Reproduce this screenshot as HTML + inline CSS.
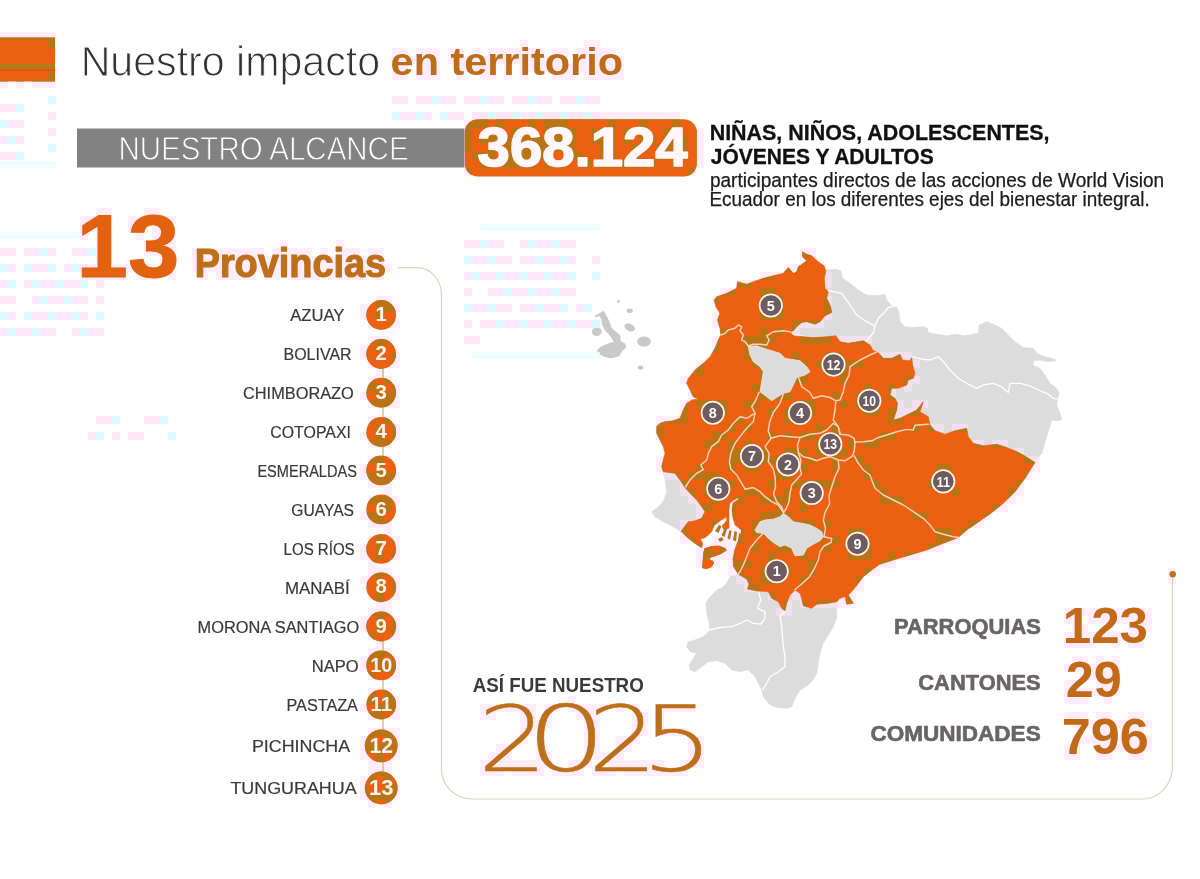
<!DOCTYPE html>
<html lang="es"><head><meta charset="utf-8"><title>Nuestro impacto en territorio</title>
<style>
html,body{margin:0;padding:0;background:#fff;}
body{width:1200px;height:879px;overflow:hidden;position:relative;font-family:"Liberation Sans",sans-serif;}
svg{position:absolute;left:0;top:0;display:block;}
text{font-family:"Liberation Sans",sans-serif;}
.lbl{font-size:16px;fill:#3a3a3a;stroke:#3a3a3a;stroke-width:0.2px;text-anchor:end;}
.num{font-weight:bold;fill:#FFF3F0;text-anchor:middle;}
.mk{font-weight:bold;fill:#fff;text-anchor:middle;}
.ob{fill:none;stroke:#FDD2BC;stroke-width:1.45;stroke-linejoin:round;stroke-linecap:round;}
.gb{fill:none;stroke:#fff;stroke-width:1.3;stroke-linejoin:round;stroke-linecap:round;}
.yr{font-family:"DejaVu Sans","Liberation Sans",sans-serif;font-weight:200;}
</style></head><body>
<svg width="1200" height="879" viewBox="0 0 1200 879">
<rect x="0" y="0" width="1200" height="879" fill="#fff"/>
<rect x="77" y="128.5" width="392" height="39" fill="#828282"/>
<g id="map-gray">
<path d="M822.0,264.0 L825.0,270.0 L836.7,269.2 L840.8,270.8 L842.5,278.3 L850.0,283.3 L858.3,290.0 L866.7,295.0 L876.7,295.8 L885.0,294.2 L886.7,300.0 L891.7,305.8 L896.7,307.5 L899.2,313.3 L900.0,321.7 L905.0,326.7 L913.3,327.5 L923.3,326.7 L927.5,328.3 L928.3,332.5 L936.7,334.2 L946.7,335.8 L955.0,334.2 L965.0,335.8 L973.3,334.2 L978.3,333.3 L979.2,325.0 L986.7,321.7 L993.3,324.2 L1001.7,328.3 L1008.3,335.0 L1015.0,341.7 L1023.3,347.5 L1033.3,348.3 L1036.7,353.3 L1045.0,356.7 L1055.0,359.2 L1055.8,360.8 L1048.3,361.7 L1040.0,360.0 L1033.3,360.8 L1033.3,365.8 L1040.0,368.3 L1045.0,375.0 L1050.0,383.3 L1056.7,388.3 L1059.2,393.3 L1057.5,399.2 L1056.7,405.0 L1060.0,413.3 L1061.7,420.0 L1056.7,420.8 L1051.7,420.0 L1046.7,436.7 L1041.7,453.3 L1034.0,462.0 L1000.0,455.0 L950.0,445.0 L900.0,430.0 L880.0,400.0 L860.0,370.0 L830.0,342.0 L788.0,331.7 L795.0,300.0 L818.0,275.0 Z" fill="#DCDCDC" stroke="#DCDCDC" stroke-width="0.6" stroke-linejoin="round"/>
<path d="M663.3,471.7 L665.0,480.0 L666.7,491.7 L663.3,501.7 L656.7,508.3 L651.7,511.7 L655.0,516.7 L663.3,521.7 L673.3,526.7 L681.1,531.7 L690.0,530.0 L700.0,520.0 L708.0,512.0 L700.0,495.0 L685.0,480.0 L675.0,471.0 Z" fill="#DCDCDC" stroke="#DCDCDC" stroke-width="0.6" stroke-linejoin="round"/>
<path d="M740.0,574.0 L730.0,576.7 L726.7,583.3 L721.7,588.0 L716.7,590.0 L710.0,596.7 L705.8,603.3 L706.7,613.3 L709.2,623.3 L710.0,630.0 L703.3,636.7 L695.0,640.0 L688.3,641.7 L686.7,646.7 L690.0,651.7 L696.7,653.3 L693.3,658.3 L689.2,665.0 L690.0,670.0 L695.0,671.7 L701.7,666.7 L708.3,661.7 L716.7,660.8 L725.0,663.3 L731.7,670.0 L740.0,671.7 L748.3,670.0 L755.0,676.7 L758.3,683.3 L761.7,690.0 L763.3,696.7 L770.0,705.0 L776.7,707.5 L786.7,708.3 L791.7,706.7 L795.0,698.3 L800.0,690.0 L808.3,685.0 L813.3,680.0 L816.7,673.3 L818.3,663.3 L820.0,653.3 L823.3,643.3 L828.3,635.0 L833.3,626.7 L836.7,618.3 L836.7,608.3 L838.3,599.0 L820.0,590.0 L790.0,580.0 L760.0,575.0 Z" fill="#DCDCDC" stroke="#DCDCDC" stroke-width="0.6" stroke-linejoin="round"/>
<path d="M595.0,316.4 L603.6,311.3 L606.4,316.4 L609.2,322.1 L611.0,327.8 L615.5,331.8 L620.0,335.7 L620.0,341.4 L624.6,343.7 L625.7,347.1 L622.3,350.5 L618.9,355.7 L611.0,357.9 L604.1,356.2 L599.6,353.9 L597.3,350.5 L600.7,347.1 L607.5,344.3 L614.4,342.0 L612.1,338.0 L608.7,333.5 L605.3,330.1 L603.0,325.5 L601.9,319.8 L600.1,315.8 Z" fill="#C9C9C9" stroke="#C9C9C9" stroke-width="1" stroke-linejoin="round"/>
<ellipse cx="596.7" cy="331.8" rx="5" ry="4.2" fill="#C9C9C9"/>
<ellipse cx="629.7" cy="327.4" rx="5.6" ry="3.6" transform="rotate(25 629.7 327.4)" fill="#C9C9C9"/>
<ellipse cx="644" cy="341.6" rx="6.8" ry="5" fill="#C9C9C9"/>
<ellipse cx="629.7" cy="310.8" rx="3" ry="2.2" fill="#C9C9C9"/>
<circle cx="618.4" cy="301.4" r="1.4" fill="#C9C9C9"/>
<ellipse cx="640.5" cy="367.6" rx="2.8" ry="2.2" fill="#C9C9C9"/>
</g>
<path d="M0,32h56v8h-56zM48,40h8v8h-8zM520,40h8v8h-8zM584,40h16v8h-16zM48,48h8v8h-8zM392,48h16v8h-16zM416,48h24v8h-24zM448,48h16v8h-16zM472,48h8v8h-8zM488,48h56v8h-56zM552,48h16v8h-16zM576,48h40v8h-40zM392,56h48v8h-48zM448,56h120v8h-120zM576,56h48v8h-48zM48,64h8v8h-8zM392,64h16v8h-16zM416,64h24v8h-24zM456,64h40v8h-40zM504,64h8v8h-8zM520,64h104v8h-104zM48,72h8v8h-8zM392,72h16v8h-16zM416,72h24v8h-24zM456,72h8v8h-8zM480,72h16v8h-16zM504,72h8v8h-8zM520,72h8v8h-8zM552,72h24v8h-24zM584,72h40v8h-40zM0,80h8v8h-8zM16,80h8v8h-8zM32,80h24v8h-24zM480,112h8v8h-8zM496,112h184v8h-184zM464,120h40v8h-40zM520,120h16v8h-16zM544,120h24v8h-24zM608,120h8v8h-8zM632,120h16v8h-16zM672,120h16v8h-16zM464,128h8v8h-8zM488,128h8v8h-8zM504,128h16v8h-16zM536,128h40v8h-40zM592,128h24v8h-24zM624,128h32v8h-32zM664,128h8v8h-8zM696,128h8v8h-8zM464,136h8v8h-8zM480,136h32v8h-32zM520,136h56v8h-56zM592,136h24v8h-24zM624,136h8v8h-8zM640,136h48v8h-48zM696,136h8v8h-8zM464,144h8v8h-8zM488,144h8v8h-8zM504,144h8v8h-8zM520,144h56v8h-56zM600,144h16v8h-16zM632,144h56v8h-56zM696,144h8v8h-8zM464,152h32v8h-32zM504,152h40v8h-40zM552,152h8v8h-8zM568,152h56v8h-56zM632,152h40v8h-40zM680,152h8v8h-8zM696,152h8v8h-8zM464,160h8v8h-8zM480,160h16v8h-16zM504,160h32v8h-32zM544,160h32v8h-32zM584,160h8v8h-8zM600,160h56v8h-56zM672,160h8v8h-8zM696,160h8v8h-8zM464,168h8v8h-8zM688,168h8v8h-8zM96,208h16v8h-16zM144,208h16v8h-16zM80,216h16v8h-16zM104,216h8v8h-8zM128,216h16v8h-16zM160,216h16v8h-16zM80,224h32v8h-32zM128,224h8v8h-8zM152,224h8v8h-8zM80,232h8v8h-8zM96,232h16v8h-16zM136,232h8v8h-8zM152,232h24v8h-24zM96,240h16v8h-16zM144,240h8v8h-8zM160,240h16v8h-16zM280,240h8v8h-8zM336,240h8v8h-8zM96,248h16v8h-16zM144,248h16v8h-16zM168,248h8v8h-8zM192,248h72v8h-72zM272,248h40v8h-40zM320,248h8v8h-8zM336,248h24v8h-24zM368,248h16v8h-16zM800,248h16v8h-16zM96,256h16v8h-16zM160,256h8v8h-8zM192,256h192v8h-192zM800,256h16v8h-16zM80,264h24v8h-24zM112,264h24v8h-24zM144,264h8v8h-8zM192,264h200v8h-200zM784,264h16v8h-16zM80,272h48v8h-48zM136,272h24v8h-24zM168,272h8v8h-8zM200,272h8v8h-8zM216,272h40v8h-40zM264,272h16v8h-16zM288,272h32v8h-32zM328,272h40v8h-40zM376,272h8v8h-8zM760,272h24v8h-24zM824,272h8v8h-8zM736,280h24v8h-24zM824,280h8v8h-8zM720,288h16v8h-16zM760,288h16v8h-16zM376,296h16v8h-16zM712,296h8v8h-8zM752,296h16v8h-16zM776,296h8v8h-8zM824,296h8v8h-8zM360,304h40v8h-40zM776,304h8v8h-8zM824,304h8v8h-8zM360,312h8v8h-8zM376,312h16v8h-16zM712,312h8v8h-8zM760,312h24v8h-24zM824,312h8v8h-8zM368,320h32v8h-32zM712,320h8v8h-8zM736,320h8v8h-8zM792,320h32v8h-32zM720,328h8v8h-8zM736,328h8v8h-8zM760,328h24v8h-24zM792,328h8v8h-8zM368,336h24v8h-24zM712,336h8v8h-8zM744,336h32v8h-32zM800,336h72v8h-72zM360,344h8v8h-8zM376,344h16v8h-16zM712,344h8v8h-8zM744,344h32v8h-32zM360,352h8v8h-8zM384,352h16v8h-16zM744,352h8v8h-8zM784,352h16v8h-16zM824,352h24v8h-24zM856,352h8v8h-8zM872,352h40v8h-40zM368,360h8v8h-8zM392,360h8v8h-8zM696,360h8v8h-8zM752,360h8v8h-8zM800,360h8v8h-8zM816,360h8v8h-8zM840,360h24v8h-24zM912,360h8v8h-8zM376,368h8v8h-8zM696,368h8v8h-8zM760,368h8v8h-8zM800,368h32v8h-32zM840,368h16v8h-16zM368,376h24v8h-24zM680,376h8v8h-8zM760,376h8v8h-8zM792,376h16v8h-16zM832,376h16v8h-16zM904,376h16v8h-16zM368,384h32v8h-32zM752,384h8v8h-8zM784,384h8v8h-8zM800,384h16v8h-16zM840,384h8v8h-8zM856,384h24v8h-24zM888,384h8v8h-8zM904,384h8v8h-8zM360,392h8v8h-8zM376,392h24v8h-24zM688,392h8v8h-8zM752,392h40v8h-40zM816,392h8v8h-8zM832,392h16v8h-16zM856,392h8v8h-8zM872,392h8v8h-8zM888,392h8v8h-8zM368,400h32v8h-32zM680,400h8v8h-8zM696,400h32v8h-32zM744,400h16v8h-16zM776,400h16v8h-16zM800,400h16v8h-16zM840,400h8v8h-8zM856,400h8v8h-8zM880,400h8v8h-8zM896,400h8v8h-8zM912,400h16v8h-16zM680,408h8v8h-8zM720,408h8v8h-8zM744,408h16v8h-16zM768,408h8v8h-8zM784,408h8v8h-8zM808,408h8v8h-8zM832,408h8v8h-8zM856,408h24v8h-24zM888,408h32v8h-32zM368,416h8v8h-8zM384,416h8v8h-8zM656,416h32v8h-32zM696,416h16v8h-16zM720,416h40v8h-40zM784,416h32v8h-32zM832,416h8v8h-8zM888,416h16v8h-16zM376,424h8v8h-8zM392,424h8v8h-8zM656,424h8v8h-8zM720,424h16v8h-16zM744,424h8v8h-8zM768,424h8v8h-8zM816,424h24v8h-24zM896,424h8v8h-8zM912,424h32v8h-32zM952,424h16v8h-16zM360,432h8v8h-8zM376,432h24v8h-24zM656,432h8v8h-8zM712,432h16v8h-16zM736,432h8v8h-8zM768,432h48v8h-48zM824,432h16v8h-16zM848,432h8v8h-8zM872,432h24v8h-24zM368,440h24v8h-24zM704,440h16v8h-16zM728,440h8v8h-8zM744,440h8v8h-8zM760,440h16v8h-16zM816,440h8v8h-8zM840,440h40v8h-40zM968,440h16v8h-16zM992,440h16v8h-16zM704,448h8v8h-8zM728,448h16v8h-16zM760,448h48v8h-48zM816,448h8v8h-8zM832,448h24v8h-24zM1008,448h16v8h-16zM368,456h24v8h-24zM656,456h8v8h-8zM704,456h8v8h-8zM728,456h16v8h-16zM760,456h24v8h-24zM792,456h48v8h-48zM856,456h8v8h-8zM1024,456h16v8h-16zM360,464h8v8h-8zM376,464h16v8h-16zM656,464h8v8h-8zM696,464h8v8h-8zM728,464h32v8h-32zM768,464h16v8h-16zM792,464h16v8h-16zM832,464h8v8h-8zM864,464h8v8h-8zM936,464h16v8h-16zM1024,464h16v8h-16zM360,472h40v8h-40zM664,472h16v8h-16zM688,472h56v8h-56zM768,472h24v8h-24zM832,472h8v8h-8zM864,472h8v8h-8zM952,472h8v8h-8zM1024,472h8v8h-8zM368,480h24v8h-24zM680,480h8v8h-8zM704,480h8v8h-8zM728,480h8v8h-8zM768,480h8v8h-8zM784,480h56v8h-56zM872,480h8v8h-8zM928,480h8v8h-8zM952,480h8v8h-8zM1016,480h8v8h-8zM384,488h8v8h-8zM680,488h16v8h-16zM704,488h8v8h-8zM728,488h8v8h-8zM744,488h32v8h-32zM784,488h8v8h-8zM816,488h16v8h-16zM872,488h16v8h-16zM952,488h8v8h-8zM1008,488h16v8h-16zM368,496h32v8h-32zM688,496h16v8h-16zM712,496h8v8h-8zM728,496h16v8h-16zM760,496h32v8h-32zM800,496h8v8h-8zM824,496h8v8h-8zM880,496h24v8h-24zM1000,496h16v8h-16zM376,504h16v8h-16zM696,504h16v8h-16zM728,504h8v8h-8zM776,504h16v8h-16zM800,504h8v8h-8zM824,504h8v8h-8zM896,504h24v8h-24zM992,504h16v8h-16zM360,512h24v8h-24zM696,512h8v8h-8zM720,512h16v8h-16zM760,512h32v8h-32zM824,512h8v8h-8zM912,512h16v8h-16zM984,512h8v8h-8zM368,520h24v8h-24zM680,520h16v8h-16zM712,520h8v8h-8zM736,520h8v8h-8zM752,520h16v8h-16zM792,520h24v8h-24zM824,520h8v8h-8zM920,520h16v8h-16zM968,520h16v8h-16zM384,528h8v8h-8zM680,528h8v8h-8zM704,528h8v8h-8zM720,528h24v8h-24zM752,528h16v8h-16zM816,528h16v8h-16zM848,528h16v8h-16zM936,528h16v8h-16zM960,528h8v8h-8zM368,536h16v8h-16zM392,536h8v8h-8zM680,536h16v8h-16zM712,536h32v8h-32zM752,536h8v8h-8zM768,536h8v8h-8zM816,536h8v8h-8zM832,536h16v8h-16zM936,536h24v8h-24zM360,544h8v8h-8zM376,544h8v8h-8zM392,544h8v8h-8zM696,544h40v8h-40zM744,544h16v8h-16zM776,544h16v8h-16zM800,544h32v8h-32zM864,544h8v8h-8zM920,544h24v8h-24zM360,552h40v8h-40zM696,552h40v8h-40zM744,552h8v8h-8zM768,552h16v8h-16zM800,552h8v8h-8zM816,552h8v8h-8zM848,552h24v8h-24zM888,552h32v8h-32zM368,560h8v8h-8zM696,560h8v8h-8zM712,560h8v8h-8zM728,560h24v8h-24zM760,560h32v8h-32zM808,560h16v8h-16zM880,560h16v8h-16zM368,568h24v8h-24zM728,568h16v8h-16zM760,568h8v8h-8zM784,568h8v8h-8zM808,568h8v8h-8zM864,568h16v8h-16zM1168,568h8v8h-8zM360,576h40v8h-40zM736,576h16v8h-16zM760,576h32v8h-32zM800,576h8v8h-8zM856,576h8v8h-8zM1168,576h8v8h-8zM376,584h8v8h-8zM392,584h8v8h-8zM744,584h24v8h-24zM792,584h8v8h-8zM856,584h8v8h-8zM368,592h16v8h-16zM392,592h8v8h-8zM768,592h8v8h-8zM792,592h8v8h-8zM832,592h24v8h-24zM376,600h16v8h-16zM784,600h8v8h-8zM800,600h56v8h-56zM368,608h24v8h-24zM776,608h16v8h-16zM1064,608h88v8h-88zM360,616h8v8h-8zM376,616h24v8h-24zM1064,616h16v8h-16zM1088,616h64v8h-64zM360,624h8v8h-8zM376,624h24v8h-24zM1072,624h16v8h-16zM1128,624h24v8h-24zM368,632h32v8h-32zM1064,632h80v8h-80zM376,640h8v8h-8zM1064,640h32v8h-32zM1112,640h8v8h-8zM1128,640h16v8h-16zM368,648h24v8h-24zM360,656h40v8h-40zM1072,656h16v8h-16zM1096,656h8v8h-8zM1112,656h8v8h-8zM360,664h40v8h-40zM1064,664h56v8h-56zM368,672h32v8h-32zM1080,672h32v8h-32zM1064,680h16v8h-16zM1096,680h24v8h-24zM368,688h24v8h-24zM1064,688h56v8h-56zM368,696h8v8h-8zM384,696h16v8h-16zM568,696h8v8h-8zM1064,696h24v8h-24zM1104,696h8v8h-8zM360,704h8v8h-8zM376,704h24v8h-24zM480,704h56v8h-56zM544,704h16v8h-16zM568,704h40v8h-40zM616,704h8v8h-8zM632,704h8v8h-8zM664,704h32v8h-32zM368,712h16v8h-16zM392,712h8v8h-8zM480,712h16v8h-16zM520,712h16v8h-16zM544,712h8v8h-8zM576,712h24v8h-24zM632,712h16v8h-16zM656,712h8v8h-8zM1064,712h24v8h-24zM1096,712h16v8h-16zM1128,712h16v8h-16zM520,720h32v8h-32zM584,720h16v8h-16zM632,720h16v8h-16zM656,720h8v8h-8zM1072,720h80v8h-80zM368,728h32v8h-32zM520,728h16v8h-16zM584,728h16v8h-16zM632,728h16v8h-16zM656,728h32v8h-32zM1096,728h16v8h-16zM1120,728h24v8h-24zM360,736h40v8h-40zM520,736h8v8h-8zM536,736h8v8h-8zM584,736h16v8h-16zM616,736h24v8h-24zM688,736h16v8h-16zM1072,736h40v8h-40zM1120,736h32v8h-32zM360,744h40v8h-40zM496,744h16v8h-16zM536,744h8v8h-8zM584,744h16v8h-16zM616,744h16v8h-16zM688,744h16v8h-16zM1064,744h16v8h-16zM1096,744h56v8h-56zM360,752h40v8h-40zM488,752h24v8h-24zM536,752h16v8h-16zM584,752h40v8h-40zM688,752h16v8h-16zM1064,752h16v8h-16zM1096,752h16v8h-16zM1128,752h16v8h-16zM368,760h24v8h-24zM480,760h72v8h-72zM568,760h24v8h-24zM608,760h56v8h-56zM680,760h24v8h-24zM368,768h24v8h-24zM480,768h24v8h-24zM512,768h32v8h-32zM552,768h32v8h-32zM592,768h24v8h-24zM624,768h64v8h-64zM360,776h16v8h-16zM384,776h8v8h-8zM360,784h40v8h-40zM360,792h40v8h-40zM368,800h8v8h-8zM384,800h8v8h-8z" fill="#FFE2FB" fill-opacity="0.62"/>
<g fill-opacity="0.8"><rect x="0" y="248" width="8" height="8" fill="#FFE0F8"/><rect x="8" y="248" width="8" height="8" fill="#FFE0F8"/><rect x="24" y="248" width="8" height="8" fill="#FFE0F8"/><rect x="32" y="248" width="8" height="8" fill="#FFE0F8"/><rect x="40" y="248" width="8" height="8" fill="#CDFAFF"/><rect x="48" y="248" width="8" height="8" fill="#FFE0F8"/><rect x="72" y="248" width="8" height="8" fill="#FFE0F8"/><rect x="80" y="248" width="8" height="8" fill="#FFE0F8"/><rect x="88" y="248" width="8" height="8" fill="#CDFAFF"/><rect x="0" y="264" width="8" height="8" fill="#CDFAFF"/><rect x="8" y="264" width="8" height="8" fill="#FFE0F8"/><rect x="24" y="264" width="8" height="8" fill="#CDFAFF"/><rect x="32" y="264" width="8" height="8" fill="#FFE0F8"/><rect x="40" y="264" width="8" height="8" fill="#FFE0F8"/><rect x="48" y="264" width="8" height="8" fill="#CDFAFF"/><rect x="64" y="264" width="8" height="8" fill="#FFE0F8"/><rect x="72" y="264" width="8" height="8" fill="#CDFAFF"/><rect x="80" y="264" width="8" height="8" fill="#FFE0F8"/><rect x="0" y="280" width="8" height="8" fill="#FFE0F8"/><rect x="8" y="280" width="8" height="8" fill="#CDFAFF"/><rect x="24" y="280" width="8" height="8" fill="#FFE0F8"/><rect x="32" y="280" width="8" height="8" fill="#CDFAFF"/><rect x="40" y="280" width="8" height="8" fill="#FFE0F8"/><rect x="48" y="280" width="8" height="8" fill="#FFE0F8"/><rect x="56" y="280" width="8" height="8" fill="#CDFAFF"/><rect x="64" y="280" width="8" height="8" fill="#FFE0F8"/><rect x="72" y="280" width="8" height="8" fill="#FFE0F8"/><rect x="80" y="280" width="8" height="8" fill="#CDFAFF"/><rect x="96" y="280" width="8" height="8" fill="#FFE0F8"/><rect x="0" y="296" width="8" height="8" fill="#FFE0F8"/><rect x="8" y="296" width="8" height="8" fill="#FFE0F8"/><rect x="32" y="296" width="8" height="8" fill="#FFE0F8"/><rect x="40" y="296" width="8" height="8" fill="#CDFAFF"/><rect x="48" y="296" width="8" height="8" fill="#FFE0F8"/><rect x="56" y="296" width="8" height="8" fill="#FFE0F8"/><rect x="64" y="296" width="8" height="8" fill="#CDFAFF"/><rect x="72" y="296" width="8" height="8" fill="#FFE0F8"/><rect x="80" y="296" width="8" height="8" fill="#FFE0F8"/><rect x="96" y="296" width="8" height="8" fill="#FFE0F8"/><rect x="0" y="312" width="8" height="8" fill="#CDFAFF"/><rect x="8" y="312" width="8" height="8" fill="#FFE0F8"/><rect x="24" y="312" width="8" height="8" fill="#CDFAFF"/><rect x="32" y="312" width="8" height="8" fill="#FFE0F8"/><rect x="40" y="312" width="8" height="8" fill="#FFE0F8"/><rect x="48" y="312" width="8" height="8" fill="#CDFAFF"/><rect x="56" y="312" width="8" height="8" fill="#FFE0F8"/><rect x="64" y="312" width="8" height="8" fill="#FFE0F8"/><rect x="72" y="312" width="8" height="8" fill="#CDFAFF"/><rect x="80" y="312" width="8" height="8" fill="#FFE0F8"/><rect x="96" y="312" width="8" height="8" fill="#CDFAFF"/><rect x="0" y="328" width="8" height="8" fill="#FFE0F8"/><rect x="8" y="328" width="8" height="8" fill="#CDFAFF"/><rect x="16" y="328" width="8" height="8" fill="#FFE0F8"/><rect x="24" y="328" width="8" height="8" fill="#FFE0F8"/><rect x="32" y="328" width="8" height="8" fill="#CDFAFF"/><rect x="40" y="328" width="8" height="8" fill="#FFE0F8"/><rect x="48" y="328" width="8" height="8" fill="#FFE0F8"/><rect x="72" y="328" width="8" height="8" fill="#FFE0F8"/><rect x="80" y="328" width="8" height="8" fill="#CDFAFF"/><rect x="88" y="328" width="8" height="8" fill="#FFE0F8"/><rect x="96" y="328" width="8" height="8" fill="#FFE0F8"/><rect x="0" y="232" width="80" height="7" fill="#ECFDFF"/><rect x="464" y="240" width="8" height="8" fill="#FFE0F8"/><rect x="472" y="240" width="8" height="8" fill="#FFE0F8"/><rect x="480" y="240" width="8" height="8" fill="#CDFAFF"/><rect x="488" y="240" width="8" height="8" fill="#FFE0F8"/><rect x="496" y="240" width="8" height="8" fill="#FFE0F8"/><rect x="520" y="240" width="8" height="8" fill="#FFE0F8"/><rect x="528" y="240" width="8" height="8" fill="#CDFAFF"/><rect x="536" y="240" width="8" height="8" fill="#FFE0F8"/><rect x="544" y="240" width="8" height="8" fill="#FFE0F8"/><rect x="552" y="240" width="8" height="8" fill="#CDFAFF"/><rect x="560" y="240" width="8" height="8" fill="#FFE0F8"/><rect x="568" y="240" width="8" height="8" fill="#FFE0F8"/><rect x="464" y="256" width="8" height="8" fill="#CDFAFF"/><rect x="472" y="256" width="8" height="8" fill="#FFE0F8"/><rect x="480" y="256" width="8" height="8" fill="#FFE0F8"/><rect x="488" y="256" width="8" height="8" fill="#CDFAFF"/><rect x="496" y="256" width="8" height="8" fill="#FFE0F8"/><rect x="504" y="256" width="8" height="8" fill="#FFE0F8"/><rect x="520" y="256" width="8" height="8" fill="#FFE0F8"/><rect x="528" y="256" width="8" height="8" fill="#FFE0F8"/><rect x="536" y="256" width="8" height="8" fill="#CDFAFF"/><rect x="544" y="256" width="8" height="8" fill="#FFE0F8"/><rect x="552" y="256" width="8" height="8" fill="#FFE0F8"/><rect x="560" y="256" width="8" height="8" fill="#CDFAFF"/><rect x="568" y="256" width="8" height="8" fill="#FFE0F8"/><rect x="592" y="256" width="8" height="8" fill="#FFE0F8"/><rect x="464" y="272" width="8" height="8" fill="#FFE0F8"/><rect x="472" y="272" width="8" height="8" fill="#CDFAFF"/><rect x="480" y="272" width="8" height="8" fill="#FFE0F8"/><rect x="488" y="272" width="8" height="8" fill="#FFE0F8"/><rect x="496" y="272" width="8" height="8" fill="#CDFAFF"/><rect x="504" y="272" width="8" height="8" fill="#FFE0F8"/><rect x="512" y="272" width="8" height="8" fill="#FFE0F8"/><rect x="520" y="272" width="8" height="8" fill="#CDFAFF"/><rect x="528" y="272" width="8" height="8" fill="#FFE0F8"/><rect x="536" y="272" width="8" height="8" fill="#FFE0F8"/><rect x="544" y="272" width="8" height="8" fill="#CDFAFF"/><rect x="552" y="272" width="8" height="8" fill="#FFE0F8"/><rect x="560" y="272" width="8" height="8" fill="#FFE0F8"/><rect x="568" y="272" width="8" height="8" fill="#CDFAFF"/><rect x="592" y="272" width="8" height="8" fill="#CDFAFF"/><rect x="464" y="288" width="8" height="8" fill="#FFE0F8"/><rect x="488" y="288" width="8" height="8" fill="#FFE0F8"/><rect x="496" y="288" width="8" height="8" fill="#FFE0F8"/><rect x="504" y="288" width="8" height="8" fill="#CDFAFF"/><rect x="512" y="288" width="8" height="8" fill="#FFE0F8"/><rect x="520" y="288" width="8" height="8" fill="#FFE0F8"/><rect x="528" y="288" width="8" height="8" fill="#CDFAFF"/><rect x="536" y="288" width="8" height="8" fill="#FFE0F8"/><rect x="544" y="288" width="8" height="8" fill="#FFE0F8"/><rect x="552" y="288" width="8" height="8" fill="#CDFAFF"/><rect x="560" y="288" width="8" height="8" fill="#FFE0F8"/><rect x="568" y="288" width="8" height="8" fill="#FFE0F8"/><rect x="464" y="304" width="8" height="8" fill="#CDFAFF"/><rect x="472" y="304" width="8" height="8" fill="#FFE0F8"/><rect x="480" y="304" width="8" height="8" fill="#FFE0F8"/><rect x="488" y="304" width="8" height="8" fill="#CDFAFF"/><rect x="496" y="304" width="8" height="8" fill="#FFE0F8"/><rect x="504" y="304" width="8" height="8" fill="#FFE0F8"/><rect x="520" y="304" width="8" height="8" fill="#FFE0F8"/><rect x="528" y="304" width="8" height="8" fill="#FFE0F8"/><rect x="536" y="304" width="8" height="8" fill="#CDFAFF"/><rect x="544" y="304" width="8" height="8" fill="#FFE0F8"/><rect x="552" y="304" width="8" height="8" fill="#FFE0F8"/><rect x="560" y="304" width="8" height="8" fill="#CDFAFF"/><rect x="576" y="304" width="8" height="8" fill="#FFE0F8"/><rect x="584" y="304" width="8" height="8" fill="#CDFAFF"/><rect x="464" y="320" width="8" height="8" fill="#FFE0F8"/><rect x="480" y="320" width="8" height="8" fill="#FFE0F8"/><rect x="488" y="320" width="8" height="8" fill="#FFE0F8"/><rect x="496" y="320" width="8" height="8" fill="#CDFAFF"/><rect x="504" y="320" width="8" height="8" fill="#FFE0F8"/><rect x="512" y="320" width="8" height="8" fill="#FFE0F8"/><rect x="520" y="320" width="8" height="8" fill="#CDFAFF"/><rect x="528" y="320" width="8" height="8" fill="#FFE0F8"/><rect x="536" y="320" width="8" height="8" fill="#FFE0F8"/><rect x="544" y="320" width="8" height="8" fill="#CDFAFF"/><rect x="552" y="320" width="8" height="8" fill="#FFE0F8"/><rect x="560" y="320" width="8" height="8" fill="#FFE0F8"/><rect x="568" y="320" width="8" height="8" fill="#CDFAFF"/><rect x="576" y="320" width="8" height="8" fill="#FFE0F8"/><rect x="584" y="320" width="8" height="8" fill="#FFE0F8"/><rect x="592" y="320" width="8" height="8" fill="#CDFAFF"/><rect x="464" y="336" width="8" height="8" fill="#FFE0F8"/><rect x="472" y="336" width="8" height="8" fill="#FFE0F8"/><rect x="480" y="224" width="120" height="7" fill="#ECFDFF"/><rect x="472" y="352" width="128" height="7" fill="#ECFDFF"/><rect x="0" y="104" width="8" height="8" fill="#FFE0F8"/><rect x="8" y="104" width="8" height="8" fill="#FFE0F8"/><rect x="16" y="104" width="8" height="8" fill="#CDFAFF"/><rect x="0" y="120" width="8" height="8" fill="#CDFAFF"/><rect x="8" y="120" width="8" height="8" fill="#FFE0F8"/><rect x="16" y="120" width="8" height="8" fill="#FFE0F8"/><rect x="0" y="136" width="8" height="8" fill="#FFE0F8"/><rect x="8" y="136" width="8" height="8" fill="#CDFAFF"/><rect x="16" y="136" width="8" height="8" fill="#FFE0F8"/><rect x="0" y="152" width="8" height="8" fill="#FFE0F8"/><rect x="8" y="152" width="8" height="8" fill="#FFE0F8"/><rect x="16" y="152" width="8" height="8" fill="#CDFAFF"/><rect x="48" y="96" width="8" height="8" fill="#CDFAFF"/><rect x="48" y="112" width="8" height="8" fill="#FFE0F8"/><rect x="48" y="128" width="8" height="8" fill="#FFE0F8"/><rect x="48" y="144" width="8" height="8" fill="#CDFAFF"/><rect x="0" y="161" width="56" height="7" fill="#ECFDFF"/><rect x="392" y="96" width="8" height="8" fill="#FFE0F8"/><rect x="400" y="96" width="8" height="8" fill="#FFE0F8"/><rect x="416" y="96" width="8" height="8" fill="#FFE0F8"/><rect x="424" y="96" width="8" height="8" fill="#FFE0F8"/><rect x="432" y="96" width="8" height="8" fill="#CDFAFF"/><rect x="440" y="96" width="8" height="8" fill="#FFE0F8"/><rect x="448" y="96" width="8" height="8" fill="#FFE0F8"/><rect x="464" y="96" width="8" height="8" fill="#FFE0F8"/><rect x="472" y="96" width="8" height="8" fill="#FFE0F8"/><rect x="480" y="96" width="8" height="8" fill="#CDFAFF"/><rect x="488" y="96" width="8" height="8" fill="#FFE0F8"/><rect x="496" y="96" width="8" height="8" fill="#FFE0F8"/><rect x="512" y="96" width="8" height="8" fill="#FFE0F8"/><rect x="520" y="96" width="8" height="8" fill="#FFE0F8"/><rect x="528" y="96" width="8" height="8" fill="#CDFAFF"/><rect x="536" y="96" width="8" height="8" fill="#FFE0F8"/><rect x="544" y="96" width="8" height="8" fill="#FFE0F8"/><rect x="560" y="96" width="8" height="8" fill="#FFE0F8"/><rect x="568" y="96" width="8" height="8" fill="#FFE0F8"/><rect x="576" y="96" width="8" height="8" fill="#CDFAFF"/><rect x="584" y="96" width="8" height="8" fill="#FFE0F8"/><rect x="592" y="96" width="8" height="8" fill="#FFE0F8"/><rect x="392" y="112" width="8" height="8" fill="#CDFAFF"/><rect x="400" y="112" width="8" height="8" fill="#FFE0F8"/><rect x="408" y="112" width="8" height="8" fill="#FFE0F8"/><rect x="416" y="112" width="8" height="8" fill="#CDFAFF"/><rect x="424" y="112" width="8" height="8" fill="#FFE0F8"/><rect x="440" y="112" width="8" height="8" fill="#CDFAFF"/><rect x="448" y="112" width="8" height="8" fill="#FFE0F8"/><rect x="456" y="112" width="8" height="8" fill="#FFE0F8"/><rect x="472" y="112" width="8" height="8" fill="#FFE0F8"/><rect x="480" y="112" width="8" height="8" fill="#FFE0F8"/><rect x="488" y="112" width="8" height="8" fill="#CDFAFF"/><rect x="496" y="112" width="8" height="8" fill="#FFE0F8"/><rect x="504" y="112" width="8" height="8" fill="#FFE0F8"/><rect x="512" y="112" width="8" height="8" fill="#CDFAFF"/><rect x="528" y="112" width="8" height="8" fill="#FFE0F8"/><rect x="536" y="112" width="8" height="8" fill="#CDFAFF"/><rect x="544" y="112" width="8" height="8" fill="#FFE0F8"/><rect x="552" y="112" width="8" height="8" fill="#FFE0F8"/><rect x="560" y="112" width="8" height="8" fill="#CDFAFF"/><rect x="568" y="112" width="8" height="8" fill="#FFE0F8"/><rect x="576" y="112" width="8" height="8" fill="#FFE0F8"/><rect x="584" y="112" width="8" height="8" fill="#CDFAFF"/><rect x="592" y="112" width="8" height="8" fill="#FFE0F8"/><rect x="96" y="416" width="8" height="8" fill="#FFE0F8"/><rect x="104" y="416" width="8" height="8" fill="#FFE0F8"/><rect x="112" y="416" width="8" height="8" fill="#CDFAFF"/><rect x="144" y="416" width="8" height="8" fill="#FFE0F8"/><rect x="152" y="416" width="8" height="8" fill="#FFE0F8"/><rect x="160" y="416" width="8" height="8" fill="#CDFAFF"/><rect x="88" y="432" width="8" height="8" fill="#FFE0F8"/><rect x="96" y="432" width="8" height="8" fill="#CDFAFF"/><rect x="112" y="432" width="8" height="8" fill="#FFE0F8"/><rect x="128" y="432" width="8" height="8" fill="#FFE0F8"/><rect x="136" y="432" width="8" height="8" fill="#FFE0F8"/><rect x="168" y="432" width="8" height="8" fill="#CDFAFF"/></g>
<path d="M828.0,290.5 L841.7,293.3 L850.0,305.0 L856.7,315.0 L866.7,321.7 L875.0,325.8" class="gb"/>
<path d="M875.0,325.8 L878.3,318.3 L885.0,311.7 L888.3,307.5 L893.0,306.5" class="gb"/>
<path d="M875.0,325.8 L873.3,333.3 L868.3,338.3 L865.8,342.0" class="gb"/>
<path d="M911.7,356.7 L921.7,359.2 L930.0,360.0 L938.3,356.7 L943.3,361.7 L950.0,370.0 L958.3,378.3 L966.7,383.3 L976.7,388.3 L983.3,385.0 L993.3,383.3 L1001.7,386.7 L1008.3,392.5 L1010.0,383.3 L1020.0,383.3 L1030.0,385.8 L1038.3,390.0 L1046.7,393.3 L1053.3,398.3 L1057.5,399.2" class="gb"/>
<path d="M758.3,590.8 L760.8,600.0 L757.5,608.3 L765.0,611.7 L765.0,618.3 L760.8,624.2 L753.3,623.3 L746.7,620.0 L740.0,623.3 L731.7,626.7 L720.0,627.5 L710.0,630.0" class="gb"/>
<path d="M785.0,610.8 L780.0,616.7 L781.7,626.7 L782.5,636.7 L783.3,646.7 L785.0,656.7 L785.0,666.7 L778.3,671.7 L770.0,676.7 L766.7,683.3 L762.5,690.0" class="gb"/>
<g id="orange">
<rect x="0" y="37.5" width="55" height="44" fill="#EB6011"/>
<rect x="464.8" y="119.3" width="232" height="57.3" rx="13" ry="13" fill="#EB6011"/>
<circle cx="381.2" cy="315.0" r="14.9" fill="#EB6011"/>
<circle cx="381.2" cy="354.0" r="14.9" fill="#EB6011"/>
<circle cx="381.2" cy="392.7" r="14.9" fill="#EB6011"/>
<circle cx="381.2" cy="432.0" r="14.9" fill="#EB6011"/>
<circle cx="381.2" cy="470.4" r="14.9" fill="#EB6011"/>
<circle cx="381.2" cy="509.4" r="14.9" fill="#EB6011"/>
<circle cx="381.2" cy="548.9" r="14.9" fill="#EB6011"/>
<circle cx="381.2" cy="587.3" r="14.9" fill="#EB6011"/>
<circle cx="381.2" cy="626.5" r="14.9" fill="#EB6011"/>
<circle cx="381.2" cy="665.4" r="14.9" fill="#EB6011"/>
<circle cx="381.2" cy="704.5" r="14.9" fill="#EB6011"/>
<circle cx="381.2" cy="745.8" r="16.4" fill="#EB6011"/>
<circle cx="381.2" cy="788.0" r="16.4" fill="#EB6011"/>
<path d="M802.5,251.7 L806.0,254.0 L811.7,255.8 L818.3,261.7 L824.2,265.8 L825.8,270.8 L824.2,278.3 L825.0,288.3 L828.3,291.7 L826.7,298.3 L830.8,306.7 L831.7,312.5 L825.0,315.8 L820.0,321.7 L815.0,324.2 L806.7,321.7 L801.7,322.5 L796.7,326.7 L793.3,330.8 L790.0,331.7 L793.3,335.8 L803.3,336.7 L813.3,337.5 L826.7,336.7 L835.8,335.8 L840.0,341.7 L848.3,343.3 L863.3,340.8 L870.0,345.0 L873.3,350.8 L877.5,351.7 L883.3,358.3 L891.7,358.3 L900.0,354.2 L902.5,360.0 L910.0,360.8 L911.7,357.5 L912.5,365.0 L915.0,373.3 L913.3,378.3 L908.3,380.0 L906.7,385.0 L898.3,388.3 L891.7,388.3 L890.0,395.0 L895.0,398.3 L897.5,403.3 L896.7,410.0 L893.3,420.0 L900.0,418.3 L906.7,415.0 L916.7,410.0 L923.3,401.7 L920.0,411.7 L928.3,416.7 L930.0,425.0 L935.0,430.8 L945.0,434.2 L955.0,430.8 L966.7,428.3 L968.3,436.7 L973.3,443.3 L983.3,445.8 L996.7,444.2 L1006.7,447.5 L1015.0,450.8 L1023.3,455.0 L1030.0,459.2 L1035.0,462.5 L1025.0,478.3 L1015.0,491.7 L1003.3,503.3 L990.0,514.0 L976.7,523.3 L966.7,530.0 L958.3,537.5 L943.3,543.3 L926.7,550.0 L910.0,555.0 L893.3,560.0 L880.0,564.2 L871.7,570.0 L863.3,576.7 L858.3,583.3 L853.3,590.0 L848.3,595.0 L853.3,603.3 L846.7,604.2 L845.0,596.7 L840.0,598.3 L836.7,601.7 L828.3,603.3 L816.7,604.2 L811.7,608.3 L803.3,605.8 L801.7,598.3 L800.0,593.3 L795.0,590.0 L790.0,595.0 L786.7,603.3 L785.0,610.8 L781.7,608.3 L778.3,601.7 L771.7,598.3 L768.3,591.7 L757.0,591.0 L747.5,589.0 L749.0,584.0 L746.7,579.0 L738.3,574.2 L733.5,566.5 L732.9,559.6 L734.6,550.5 L736.9,543.7 L740.3,536.9 L741.4,530.0 L735.0,525.0 L733.0,518.0 L732.0,510.0 L733.0,503.0 L739.0,499.0 L738.0,497.6 L732.3,501.0 L729.5,503.9 L728.9,510.7 L729.0,528.0 L724.0,530.0 L722.0,526.0 L727.0,520.0 L726.0,517.0 L719.8,521.0 L714.1,525.5 L711.9,531.2 L706.2,536.9 L700.5,539.2 L702.8,543.7 L701.6,547.7 L693.7,542.6 L686.8,536.9 L681.1,531.2 L683.3,528.3 L688.3,521.7 L695.0,520.8 L701.7,518.3 L705.0,511.7 L701.7,506.7 L696.7,500.0 L690.0,493.3 L685.0,487.5 L680.0,480.0 L675.0,473.3 L663.3,471.7 L661.7,466.7 L663.3,460.0 L665.0,453.3 L663.3,446.7 L660.0,440.0 L656.7,433.3 L656.7,426.7 L660.0,423.3 L665.0,421.7 L673.3,420.8 L680.0,418.3 L683.3,410.0 L686.7,403.3 L691.7,400.0 L698.3,399.2 L693.3,396.7 L690.0,390.0 L686.7,383.3 L688.3,378.3 L695.0,370.0 L703.3,363.3 L710.0,356.7 L715.0,348.3 L718.3,340.0 L720.8,335.0 L720.0,328.3 L717.5,320.0 L720.0,313.3 L715.8,306.7 L714.2,300.0 L716.7,296.7 L726.7,293.3 L736.7,288.3 L737.5,281.7 L746.7,284.2 L753.3,281.7 L763.3,278.3 L773.3,275.8 L783.3,273.3 L788.3,267.5 L793.3,273.3 L796.7,271.7 L798.3,266.7 L803.3,263.3 L806.7,260.8 L802.5,256.7 Z" fill="#EB6011" stroke="#EB6011" stroke-width="0.6" stroke-linejoin="round"/>
<path d="M704.5,548.3 L711.9,546.0 L718.7,545.4 L725.5,548.3 L726.6,550.5 L721.0,553.9 L715.3,556.2 L710.7,557.4 L709.6,559.6 L713.0,560.8 L714.1,563.0 L711.3,567.6 L706.2,569.3 L702.2,568.2 L702.8,559.6 L703.3,552.8 Z" fill="#EB6011"/>
</g>
<clipPath id="oc"><rect x="0" y="37.5" width="55" height="44"/><rect x="464.8" y="119.3" width="232" height="57.3" rx="13" ry="13"/>
<circle cx="381.2" cy="315.0" r="14.9"/>
<circle cx="381.2" cy="354.0" r="14.9"/>
<circle cx="381.2" cy="392.7" r="14.9"/>
<circle cx="381.2" cy="432.0" r="14.9"/>
<circle cx="381.2" cy="470.4" r="14.9"/>
<circle cx="381.2" cy="509.4" r="14.9"/>
<circle cx="381.2" cy="548.9" r="14.9"/>
<circle cx="381.2" cy="587.3" r="14.9"/>
<circle cx="381.2" cy="626.5" r="14.9"/>
<circle cx="381.2" cy="665.4" r="14.9"/>
<circle cx="381.2" cy="704.5" r="14.9"/>
<circle cx="381.2" cy="745.8" r="16.4"/>
<circle cx="381.2" cy="788.0" r="16.4"/>
<path d="M802.5,251.7 L806.0,254.0 L811.7,255.8 L818.3,261.7 L824.2,265.8 L825.8,270.8 L824.2,278.3 L825.0,288.3 L828.3,291.7 L826.7,298.3 L830.8,306.7 L831.7,312.5 L825.0,315.8 L820.0,321.7 L815.0,324.2 L806.7,321.7 L801.7,322.5 L796.7,326.7 L793.3,330.8 L790.0,331.7 L793.3,335.8 L803.3,336.7 L813.3,337.5 L826.7,336.7 L835.8,335.8 L840.0,341.7 L848.3,343.3 L863.3,340.8 L870.0,345.0 L873.3,350.8 L877.5,351.7 L883.3,358.3 L891.7,358.3 L900.0,354.2 L902.5,360.0 L910.0,360.8 L911.7,357.5 L912.5,365.0 L915.0,373.3 L913.3,378.3 L908.3,380.0 L906.7,385.0 L898.3,388.3 L891.7,388.3 L890.0,395.0 L895.0,398.3 L897.5,403.3 L896.7,410.0 L893.3,420.0 L900.0,418.3 L906.7,415.0 L916.7,410.0 L923.3,401.7 L920.0,411.7 L928.3,416.7 L930.0,425.0 L935.0,430.8 L945.0,434.2 L955.0,430.8 L966.7,428.3 L968.3,436.7 L973.3,443.3 L983.3,445.8 L996.7,444.2 L1006.7,447.5 L1015.0,450.8 L1023.3,455.0 L1030.0,459.2 L1035.0,462.5 L1025.0,478.3 L1015.0,491.7 L1003.3,503.3 L990.0,514.0 L976.7,523.3 L966.7,530.0 L958.3,537.5 L943.3,543.3 L926.7,550.0 L910.0,555.0 L893.3,560.0 L880.0,564.2 L871.7,570.0 L863.3,576.7 L858.3,583.3 L853.3,590.0 L848.3,595.0 L853.3,603.3 L846.7,604.2 L845.0,596.7 L840.0,598.3 L836.7,601.7 L828.3,603.3 L816.7,604.2 L811.7,608.3 L803.3,605.8 L801.7,598.3 L800.0,593.3 L795.0,590.0 L790.0,595.0 L786.7,603.3 L785.0,610.8 L781.7,608.3 L778.3,601.7 L771.7,598.3 L768.3,591.7 L757.0,591.0 L747.5,589.0 L749.0,584.0 L746.7,579.0 L738.3,574.2 L733.5,566.5 L732.9,559.6 L734.6,550.5 L736.9,543.7 L740.3,536.9 L741.4,530.0 L735.0,525.0 L733.0,518.0 L732.0,510.0 L733.0,503.0 L739.0,499.0 L738.0,497.6 L732.3,501.0 L729.5,503.9 L728.9,510.7 L729.0,528.0 L724.0,530.0 L722.0,526.0 L727.0,520.0 L726.0,517.0 L719.8,521.0 L714.1,525.5 L711.9,531.2 L706.2,536.9 L700.5,539.2 L702.8,543.7 L701.6,547.7 L693.7,542.6 L686.8,536.9 L681.1,531.2 L683.3,528.3 L688.3,521.7 L695.0,520.8 L701.7,518.3 L705.0,511.7 L701.7,506.7 L696.7,500.0 L690.0,493.3 L685.0,487.5 L680.0,480.0 L675.0,473.3 L663.3,471.7 L661.7,466.7 L663.3,460.0 L665.0,453.3 L663.3,446.7 L660.0,440.0 L656.7,433.3 L656.7,426.7 L660.0,423.3 L665.0,421.7 L673.3,420.8 L680.0,418.3 L683.3,410.0 L686.7,403.3 L691.7,400.0 L698.3,399.2 L693.3,396.7 L690.0,390.0 L686.7,383.3 L688.3,378.3 L695.0,370.0 L703.3,363.3 L710.0,356.7 L715.0,348.3 L718.3,340.0 L720.8,335.0 L720.0,328.3 L717.5,320.0 L720.0,313.3 L715.8,306.7 L714.2,300.0 L716.7,296.7 L726.7,293.3 L736.7,288.3 L737.5,281.7 L746.7,284.2 L753.3,281.7 L763.3,278.3 L773.3,275.8 L783.3,273.3 L788.3,267.5 L793.3,273.3 L796.7,271.7 L798.3,266.7 L803.3,263.3 L806.7,260.8 L802.5,256.7 Z"/><path d="M704.5,548.3 L711.9,546.0 L718.7,545.4 L725.5,548.3 L726.6,550.5 L721.0,553.9 L715.3,556.2 L710.7,557.4 L709.6,559.6 L713.0,560.8 L714.1,563.0 L711.3,567.6 L706.2,569.3 L702.2,568.2 L702.8,559.6 L703.3,552.8 Z"/></clipPath>
<path d="M0,32h56v8h-56zM48,40h8v8h-8zM520,40h8v8h-8zM584,40h8v8h-8zM392,48h16v8h-16zM416,48h24v8h-24zM448,48h16v8h-16zM472,48h8v8h-8zM488,48h32v8h-32zM528,48h16v8h-16zM552,48h16v8h-16zM576,48h40v8h-40zM408,56h32v8h-32zM448,56h56v8h-56zM512,56h48v8h-48zM576,56h48v8h-48zM392,64h16v8h-16zM416,64h24v8h-24zM456,64h32v8h-32zM528,64h32v8h-32zM568,64h16v8h-16zM592,64h8v8h-8zM608,64h16v8h-16zM48,72h8v8h-8zM392,72h8v8h-8zM416,72h24v8h-24zM456,72h8v8h-8zM480,72h16v8h-16zM504,72h8v8h-8zM520,72h8v8h-8zM552,72h24v8h-24zM584,72h40v8h-40zM0,80h8v8h-8zM16,80h8v8h-8zM32,80h24v8h-24zM480,112h8v8h-8zM496,112h184v8h-184zM464,120h24v8h-24zM496,120h8v8h-8zM528,120h8v8h-8zM544,120h24v8h-24zM608,120h8v8h-8zM640,120h8v8h-8zM672,120h8v8h-8zM464,128h8v8h-8zM488,128h8v8h-8zM512,128h8v8h-8zM544,128h32v8h-32zM592,128h24v8h-24zM624,128h24v8h-24zM664,128h8v8h-8zM696,128h8v8h-8zM464,136h8v8h-8zM480,136h32v8h-32zM520,136h56v8h-56zM592,136h24v8h-24zM624,136h8v8h-8zM640,136h16v8h-16zM664,136h24v8h-24zM696,136h8v8h-8zM464,144h8v8h-8zM488,144h8v8h-8zM504,144h8v8h-8zM520,144h56v8h-56zM600,144h16v8h-16zM632,144h16v8h-16zM656,144h32v8h-32zM696,144h8v8h-8zM472,152h24v8h-24zM504,152h40v8h-40zM568,152h16v8h-16zM600,152h16v8h-16zM632,152h8v8h-8zM656,152h16v8h-16zM680,152h8v8h-8zM696,152h8v8h-8zM480,160h16v8h-16zM504,160h32v8h-32zM544,160h8v8h-8zM560,160h8v8h-8zM584,160h8v8h-8zM600,160h56v8h-56zM672,160h8v8h-8zM696,160h8v8h-8zM464,168h8v8h-8zM688,168h8v8h-8zM96,208h16v8h-16zM144,208h16v8h-16zM80,216h16v8h-16zM104,216h8v8h-8zM128,216h16v8h-16zM168,216h8v8h-8zM80,224h8v8h-8zM96,224h8v8h-8zM128,224h8v8h-8zM152,224h8v8h-8zM80,232h8v8h-8zM104,232h8v8h-8zM152,232h16v8h-16zM104,240h8v8h-8zM144,240h8v8h-8zM168,240h8v8h-8zM280,240h8v8h-8zM336,240h8v8h-8zM96,248h16v8h-16zM144,248h16v8h-16zM192,248h8v8h-8zM208,248h56v8h-56zM272,248h40v8h-40zM320,248h8v8h-8zM336,248h24v8h-24zM368,248h16v8h-16zM800,248h16v8h-16zM96,256h16v8h-16zM192,256h40v8h-40zM240,256h40v8h-40zM288,256h56v8h-56zM352,256h16v8h-16zM376,256h8v8h-8zM800,256h8v8h-8zM80,264h24v8h-24zM112,264h24v8h-24zM192,264h56v8h-56zM256,264h24v8h-24zM288,264h24v8h-24zM320,264h24v8h-24zM352,264h24v8h-24zM384,264h8v8h-8zM784,264h16v8h-16zM80,272h48v8h-48zM136,272h8v8h-8zM152,272h8v8h-8zM168,272h8v8h-8zM200,272h8v8h-8zM216,272h16v8h-16zM240,272h16v8h-16zM264,272h16v8h-16zM288,272h32v8h-32zM328,272h40v8h-40zM376,272h8v8h-8zM760,272h16v8h-16zM824,272h8v8h-8zM736,280h16v8h-16zM824,280h8v8h-8zM720,288h16v8h-16zM760,288h16v8h-16zM376,296h16v8h-16zM712,296h8v8h-8zM760,296h8v8h-8zM776,296h8v8h-8zM824,296h8v8h-8zM360,304h8v8h-8zM376,304h24v8h-24zM776,304h8v8h-8zM824,304h8v8h-8zM360,312h8v8h-8zM376,312h8v8h-8zM712,312h8v8h-8zM760,312h24v8h-24zM824,312h8v8h-8zM392,320h8v8h-8zM712,320h8v8h-8zM792,320h32v8h-32zM720,328h8v8h-8zM760,328h8v8h-8zM776,328h8v8h-8zM792,328h8v8h-8zM368,336h24v8h-24zM712,336h8v8h-8zM744,336h32v8h-32zM800,336h32v8h-32zM840,336h32v8h-32zM360,344h8v8h-8zM376,344h8v8h-8zM712,344h8v8h-8zM744,344h24v8h-24zM360,352h8v8h-8zM392,352h8v8h-8zM744,352h8v8h-8zM792,352h8v8h-8zM824,352h16v8h-16zM880,352h32v8h-32zM392,360h8v8h-8zM696,360h8v8h-8zM752,360h8v8h-8zM800,360h8v8h-8zM816,360h8v8h-8zM840,360h24v8h-24zM912,360h8v8h-8zM376,368h8v8h-8zM696,368h8v8h-8zM760,368h8v8h-8zM800,368h8v8h-8zM824,368h8v8h-8zM840,368h8v8h-8zM368,376h8v8h-8zM384,376h8v8h-8zM680,376h8v8h-8zM760,376h8v8h-8zM792,376h16v8h-16zM840,376h8v8h-8zM904,376h16v8h-16zM368,384h16v8h-16zM392,384h8v8h-8zM752,384h8v8h-8zM784,384h8v8h-8zM864,384h8v8h-8zM888,384h8v8h-8zM904,384h8v8h-8zM360,392h8v8h-8zM376,392h24v8h-24zM688,392h8v8h-8zM760,392h32v8h-32zM832,392h8v8h-8zM856,392h8v8h-8zM872,392h8v8h-8zM888,392h8v8h-8zM368,400h32v8h-32zM680,400h8v8h-8zM696,400h32v8h-32zM744,400h16v8h-16zM800,400h16v8h-16zM840,400h8v8h-8zM856,400h8v8h-8zM896,400h8v8h-8zM912,400h16v8h-16zM680,408h8v8h-8zM720,408h8v8h-8zM768,408h8v8h-8zM784,408h8v8h-8zM808,408h8v8h-8zM864,408h16v8h-16zM888,408h32v8h-32zM368,416h8v8h-8zM384,416h8v8h-8zM656,416h32v8h-32zM704,416h8v8h-8zM736,416h8v8h-8zM784,416h24v8h-24zM888,416h16v8h-16zM376,424h8v8h-8zM392,424h8v8h-8zM656,424h8v8h-8zM728,424h8v8h-8zM744,424h8v8h-8zM816,424h8v8h-8zM832,424h8v8h-8zM912,424h8v8h-8zM928,424h16v8h-16zM952,424h16v8h-16zM360,432h8v8h-8zM376,432h8v8h-8zM392,432h8v8h-8zM656,432h8v8h-8zM712,432h16v8h-16zM768,432h8v8h-8zM784,432h8v8h-8zM800,432h16v8h-16zM824,432h16v8h-16zM880,432h16v8h-16zM368,440h24v8h-24zM704,440h16v8h-16zM728,440h8v8h-8zM744,440h8v8h-8zM816,440h8v8h-8zM848,440h8v8h-8zM864,440h16v8h-16zM976,440h8v8h-8zM992,440h16v8h-16zM728,448h16v8h-16zM760,448h8v8h-8zM784,448h24v8h-24zM816,448h8v8h-8zM832,448h16v8h-16zM1016,448h8v8h-8zM368,456h16v8h-16zM656,456h8v8h-8zM728,456h16v8h-16zM760,456h24v8h-24zM792,456h8v8h-8zM808,456h8v8h-8zM832,456h8v8h-8zM856,456h8v8h-8zM1024,456h16v8h-16zM360,464h8v8h-8zM376,464h8v8h-8zM656,464h8v8h-8zM696,464h8v8h-8zM728,464h8v8h-8zM744,464h16v8h-16zM776,464h8v8h-8zM792,464h16v8h-16zM832,464h8v8h-8zM864,464h8v8h-8zM936,464h16v8h-16zM1032,464h8v8h-8zM360,472h40v8h-40zM664,472h16v8h-16zM688,472h32v8h-32zM776,472h16v8h-16zM864,472h8v8h-8zM1024,472h8v8h-8zM368,480h24v8h-24zM680,480h8v8h-8zM704,480h8v8h-8zM728,480h8v8h-8zM768,480h8v8h-8zM792,480h48v8h-48zM872,480h8v8h-8zM928,480h8v8h-8zM1016,480h8v8h-8zM384,488h8v8h-8zM680,488h16v8h-16zM704,488h8v8h-8zM744,488h16v8h-16zM784,488h8v8h-8zM816,488h8v8h-8zM880,488h8v8h-8zM952,488h8v8h-8zM1008,488h16v8h-16zM368,496h32v8h-32zM688,496h8v8h-8zM712,496h8v8h-8zM736,496h8v8h-8zM760,496h32v8h-32zM800,496h8v8h-8zM880,496h24v8h-24zM1008,496h8v8h-8zM376,504h16v8h-16zM696,504h16v8h-16zM728,504h8v8h-8zM776,504h8v8h-8zM800,504h8v8h-8zM992,504h16v8h-16zM360,512h24v8h-24zM696,512h8v8h-8zM728,512h8v8h-8zM760,512h32v8h-32zM912,512h16v8h-16zM984,512h8v8h-8zM368,520h24v8h-24zM680,520h8v8h-8zM712,520h8v8h-8zM752,520h16v8h-16zM792,520h24v8h-24zM824,520h8v8h-8zM968,520h16v8h-16zM384,528h8v8h-8zM680,528h8v8h-8zM720,528h24v8h-24zM752,528h16v8h-16zM816,528h8v8h-8zM848,528h16v8h-16zM936,528h16v8h-16zM960,528h8v8h-8zM376,536h8v8h-8zM392,536h8v8h-8zM680,536h16v8h-16zM712,536h32v8h-32zM768,536h8v8h-8zM816,536h8v8h-8zM832,536h8v8h-8zM936,536h24v8h-24zM360,544h8v8h-8zM376,544h8v8h-8zM696,544h16v8h-16zM720,544h16v8h-16zM752,544h8v8h-8zM776,544h16v8h-16zM800,544h8v8h-8zM824,544h8v8h-8zM864,544h8v8h-8zM928,544h16v8h-16zM360,552h8v8h-8zM376,552h8v8h-8zM392,552h8v8h-8zM696,552h40v8h-40zM768,552h8v8h-8zM800,552h8v8h-8zM848,552h24v8h-24zM888,552h8v8h-8zM904,552h16v8h-16zM368,560h8v8h-8zM696,560h8v8h-8zM712,560h8v8h-8zM728,560h24v8h-24zM768,560h16v8h-16zM808,560h8v8h-8zM880,560h16v8h-16zM368,568h24v8h-24zM728,568h16v8h-16zM760,568h8v8h-8zM784,568h8v8h-8zM808,568h8v8h-8zM864,568h16v8h-16zM1168,568h8v8h-8zM360,576h8v8h-8zM376,576h8v8h-8zM392,576h8v8h-8zM736,576h16v8h-16zM760,576h24v8h-24zM800,576h8v8h-8zM856,576h8v8h-8zM1168,576h8v8h-8zM376,584h8v8h-8zM392,584h8v8h-8zM744,584h16v8h-16zM856,584h8v8h-8zM376,592h8v8h-8zM392,592h8v8h-8zM768,592h8v8h-8zM792,592h8v8h-8zM848,592h8v8h-8zM376,600h8v8h-8zM784,600h8v8h-8zM800,600h8v8h-8zM816,600h40v8h-40zM368,608h24v8h-24zM776,608h16v8h-16zM1064,608h8v8h-8zM1080,608h24v8h-24zM1112,608h40v8h-40zM360,616h8v8h-8zM376,616h8v8h-8zM392,616h8v8h-8zM1064,616h16v8h-16zM1088,616h8v8h-8zM1104,616h32v8h-32zM1144,616h8v8h-8zM360,624h8v8h-8zM376,624h8v8h-8zM392,624h8v8h-8zM1072,624h16v8h-16zM1128,624h24v8h-24zM368,632h8v8h-8zM392,632h8v8h-8zM1064,632h32v8h-32zM1104,632h32v8h-32zM376,640h8v8h-8zM1064,640h32v8h-32zM1112,640h8v8h-8zM1128,640h8v8h-8zM368,648h24v8h-24zM360,656h24v8h-24zM392,656h8v8h-8zM1072,656h16v8h-16zM1096,656h8v8h-8zM1112,656h8v8h-8zM360,664h8v8h-8zM376,664h24v8h-24zM1064,664h16v8h-16zM1088,664h8v8h-8zM1104,664h16v8h-16zM368,672h8v8h-8zM392,672h8v8h-8zM1080,672h32v8h-32zM1064,680h16v8h-16zM1096,680h16v8h-16zM368,688h8v8h-8zM384,688h8v8h-8zM1064,688h8v8h-8zM1080,688h40v8h-40zM368,696h8v8h-8zM384,696h16v8h-16zM568,696h8v8h-8zM1064,696h24v8h-24zM1104,696h8v8h-8zM376,704h24v8h-24zM480,704h56v8h-56zM544,704h16v8h-16zM568,704h40v8h-40zM616,704h8v8h-8zM632,704h8v8h-8zM664,704h32v8h-32zM368,712h16v8h-16zM392,712h8v8h-8zM480,712h16v8h-16zM520,712h16v8h-16zM544,712h8v8h-8zM576,712h24v8h-24zM632,712h16v8h-16zM1064,712h24v8h-24zM1096,712h16v8h-16zM1128,712h16v8h-16zM520,720h32v8h-32zM584,720h16v8h-16zM632,720h16v8h-16zM1072,720h32v8h-32zM1112,720h24v8h-24zM1144,720h8v8h-8zM368,728h32v8h-32zM520,728h16v8h-16zM584,728h16v8h-16zM632,728h16v8h-16zM664,728h24v8h-24zM1096,728h16v8h-16zM1128,728h16v8h-16zM360,736h16v8h-16zM384,736h16v8h-16zM520,736h8v8h-8zM536,736h8v8h-8zM584,736h16v8h-16zM616,736h24v8h-24zM688,736h8v8h-8zM1080,736h32v8h-32zM1128,736h24v8h-24zM360,744h40v8h-40zM496,744h16v8h-16zM536,744h8v8h-8zM584,744h16v8h-16zM616,744h16v8h-16zM688,744h16v8h-16zM1064,744h16v8h-16zM1096,744h40v8h-40zM1144,744h8v8h-8zM360,752h8v8h-8zM376,752h8v8h-8zM392,752h8v8h-8zM488,752h24v8h-24zM536,752h16v8h-16zM592,752h32v8h-32zM688,752h16v8h-16zM1064,752h16v8h-16zM1096,752h16v8h-16zM1128,752h16v8h-16zM368,760h24v8h-24zM480,760h8v8h-8zM496,760h48v8h-48zM568,760h24v8h-24zM616,760h24v8h-24zM648,760h16v8h-16zM680,760h8v8h-8zM696,760h8v8h-8zM368,768h24v8h-24zM480,768h8v8h-8zM496,768h8v8h-8zM512,768h32v8h-32zM552,768h32v8h-32zM592,768h24v8h-24zM624,768h64v8h-64zM368,776h8v8h-8zM384,776h8v8h-8zM360,784h8v8h-8zM384,784h16v8h-16zM360,792h40v8h-40zM368,800h8v8h-8zM384,800h8v8h-8z" fill="#A67C18" fill-opacity="0.72" clip-path="url(#oc)"/>
<rect x="0" y="64" width="55" height="5.5" fill="#B47A1E"/>
<rect x="0" y="69.3" width="55" height="1.8" fill="#F04A12"/>
<path d="M715.0,531.0 L719.0,525.0 L721.5,526.0 L718.5,533.0 Z" fill="#B0761C"/>
<path d="M721.5,535.0 L725.0,528.0 L727.0,529.0 L724.5,537.0 Z" fill="#B0761C"/>
<path d="M727.5,538.0 L729.5,530.0 L731.5,531.0 L730.0,540.0 Z" fill="#B0761C"/>
<path d="M733.0,540.0 L734.5,531.0 L737.0,532.0 L736.0,541.5 Z" fill="#B0761C"/>
<path d="M738.0,541.0 L739.0,533.0 L740.5,534.0 L740.0,542.0 Z" fill="#B0761C"/>
<path d="M718.0,539.0 L722.0,537.0 L723.5,540.0 L720.0,542.0 Z" fill="#B0761C"/>
<path d="M748.3,346.7 L756.7,345.8 L766.7,349.2 L780.0,353.3 L785.0,358.3 L800.0,360.8 L806.7,366.7 L810.0,371.7 L805.0,375.0 L796.7,377.5 L793.3,385.0 L790.0,391.7 L783.3,393.3 L776.7,397.5 L771.7,400.8 L766.7,396.7 L760.0,391.7 L761.7,381.7 L763.3,371.7 L760.0,366.7 L753.3,361.7 L750.0,355.0 Z" fill="#DCDCDC" stroke="#F6E3DC" stroke-width="0.8" stroke-linejoin="round"/>
<path d="M760.0,521.7 L755.0,530.0 L756.7,532.5 L763.3,533.3 L768.3,538.3 L773.3,542.5 L780.0,546.7 L785.0,545.0 L791.7,548.3 L795.0,555.8 L803.3,555.0 L806.7,548.3 L813.3,544.2 L820.0,540.8 L823.3,536.7 L821.7,531.7 L816.7,528.3 L810.0,525.0 L801.7,523.3 L793.3,521.7 L788.3,516.7 L783.3,513.3 L780.0,516.7 L773.3,519.2 L765.0,520.0 Z" fill="#DCDCDC" stroke="#F6E3DC" stroke-width="0.8" stroke-linejoin="round"/>
<path d="M790.0,331.7 L783.3,330.8 L773.3,331.7 L766.7,335.8 L769.2,340.0 L766.7,345.0" class="ob"/>
<path d="M766.7,345.0 L760.0,344.2 L753.3,344.2 L748.3,346.0" class="ob"/>
<path d="M748.3,346.0 L745.0,341.7 L741.7,340.0 L743.3,335.0 L740.0,330.8 L741.7,326.7 L738.3,325.0 L735.0,328.3 L728.3,330.0 L725.0,333.3 L720.8,335.0" class="ob"/>
<path d="M877.5,351.7 L870.0,355.0 L860.0,360.0 L850.0,366.7 L849.2,375.0 L845.0,383.3 L843.3,391.7 L840.0,400.0 L835.8,400.8" class="ob"/>
<path d="M798.3,376.7 L801.7,386.7 L810.0,392.5 L813.3,398.3 L821.7,395.8 L830.0,397.5 L835.8,400.8" class="ob"/>
<path d="M835.8,400.8 L835.0,410.0 L833.3,420.0 L838.3,426.7 L840.0,433.5" class="ob"/>
<path d="M800.0,437.5 L810.0,434.2 L820.0,433.3 L826.7,430.0 L833.3,423.3 L838.3,426.7 L840.0,434.2 L848.3,435.0 L854.2,438.3 L855.0,443.3 L854.2,451.7 L851.7,456.7 L845.0,460.8 L838.3,460.0 L830.0,456.7 L823.3,458.3 L816.7,460.8 L810.0,458.3 L803.3,456.7 L798.3,452.5 L797.5,445.0 L800.0,437.5" class="ob"/>
<path d="M783.3,394.0 L780.0,403.3 L773.3,412.5 L769.5,422.5 L768.3,431.0 L771.0,438.3" class="ob"/>
<path d="M771.0,438.3 L780.0,435.8 L790.0,436.7 L800.0,437.5" class="ob"/>
<path d="M771.0,438.3 L765.0,446.7 L769.2,453.3 L768.3,461.7 L773.0,468.3 L775.0,476.7 L775.5,486.7 L773.5,494.0 L776.7,501.7 L781.7,506.7 L783.5,512.5" class="ob"/>
<path d="M798.3,452.5 L800.8,460.0 L800.0,468.3 L801.5,474.0 L796.7,479.5 L791.7,485.0 L790.0,493.3 L789.0,501.7 L786.0,509.0 L783.5,512.5" class="ob"/>
<path d="M838.3,460.8 L839.0,468.3 L835.0,476.7 L832.0,486.0 L829.0,495.5 L829.6,504.0 L825.0,512.5 L823.3,520.0 L825.5,528.3 L824.0,536.7" class="ob"/>
<path d="M824.0,536.7 L831.7,538.5 L831.0,542.5 L824.0,546.0 L820.0,551.7 L818.3,560.0 L814.5,568.3 L809.5,576.7 L802.5,583.3 L795.0,589.5" class="ob"/>
<path d="M763.3,533.3 L756.7,540.0 L750.0,548.3 L746.7,556.7 L743.3,565.0 L740.0,571.7 L738.3,574.2" class="ob"/>
<path d="M855.0,442.0 L863.3,441.7 L871.7,440.8 L878.3,437.5 L886.7,435.0 L896.7,431.7 L906.7,429.4 L913.3,430.0 L915.0,425.3 L928.3,424.2" class="ob"/>
<path d="M854.2,455.8 L858.3,463.3 L863.3,470.0 L870.0,475.0 L872.5,482.0 L875.0,488.3 L883.3,495.0 L893.3,500.0 L903.3,505.0 L913.3,511.7 L923.3,518.3 L930.0,525.0 L935.0,531.7 L943.3,534.2 L953.3,536.7 L959.0,537.5" class="ob"/>
<path d="M685.5,487.0 L690.0,480.0 L696.7,473.3 L703.3,469.5 L700.8,465.0 L706.7,460.0 L708.3,453.3 L711.7,446.7 L718.3,441.7 L721.7,435.0 L728.3,430.0 L733.3,423.3 L740.0,416.7 L746.7,418.3 L753.3,414.2" class="ob"/>
<path d="M759.0,392.5 L755.0,401.7 L751.7,406.7 L755.0,413.3" class="ob"/>
<path d="M755.0,413.3 L753.3,421.7 L746.7,428.3 L740.0,436.7 L735.0,443.3 L730.8,453.3 L729.4,462.0 L730.8,469.0 L736.7,475.0 L741.7,483.3 L745.0,489.2 L753.3,487.5 L760.0,491.7 L765.0,496.7 L771.7,501.7 L778.3,505.0 L783.5,512.5" class="ob"/>
<path d="M398,267.6 H417 A24.5,27 0 0 1 441.5,294.6 V769 A30,30 0 0 0 471.5,799 H1142.5 A30,33 0 0 0 1172.5,766 V575" fill="none" stroke="#DCD3BE" stroke-width="1.1"/>
<circle cx="1172.7" cy="574.2" r="3.2" fill="#B5761F"/>
<line x1="383" y1="368.4" x2="383" y2="378.3" stroke="#B09A4A" stroke-width="0.9"/>
<line x1="383" y1="407.1" x2="383" y2="417.6" stroke="#B09A4A" stroke-width="0.9"/>
<line x1="383" y1="446.4" x2="383" y2="456.0" stroke="#B09A4A" stroke-width="0.9"/>
<line x1="383" y1="640.9" x2="383" y2="651.0" stroke="#B09A4A" stroke-width="0.9"/>
<line x1="383" y1="679.8" x2="383" y2="690.1" stroke="#B09A4A" stroke-width="0.9"/>
<line x1="383" y1="718.9" x2="383" y2="729.9" stroke="#B09A4A" stroke-width="0.9"/>
<line x1="383" y1="761.7" x2="383" y2="772.1" stroke="#B09A4A" stroke-width="0.9"/>
<circle cx="776.7" cy="571.2" r="11.2" fill="#6E5C5F" stroke="#FFF6F4" stroke-width="1.7"/>
<circle cx="788.0" cy="464.5" r="11.2" fill="#6E5C5F" stroke="#FFF6F4" stroke-width="1.7"/>
<circle cx="811.7" cy="493.0" r="11.2" fill="#6E5C5F" stroke="#FFF6F4" stroke-width="1.7"/>
<circle cx="800.0" cy="413.0" r="11.2" fill="#6E5C5F" stroke="#FFF6F4" stroke-width="1.7"/>
<circle cx="770.8" cy="305.5" r="11.2" fill="#6E5C5F" stroke="#FFF6F4" stroke-width="1.7"/>
<circle cx="718.3" cy="488.7" r="11.2" fill="#6E5C5F" stroke="#FFF6F4" stroke-width="1.7"/>
<circle cx="752.0" cy="456.0" r="11.2" fill="#6E5C5F" stroke="#FFF6F4" stroke-width="1.7"/>
<circle cx="712.8" cy="412.8" r="11.2" fill="#6E5C5F" stroke="#FFF6F4" stroke-width="1.7"/>
<circle cx="857.5" cy="543.8" r="11.2" fill="#6E5C5F" stroke="#FFF6F4" stroke-width="1.7"/>
<circle cx="869.3" cy="400.8" r="11.2" fill="#6E5C5F" stroke="#FFF6F4" stroke-width="1.7"/>
<circle cx="943.3" cy="481.4" r="11.2" fill="#6E5C5F" stroke="#FFF6F4" stroke-width="1.7"/>
<circle cx="833.5" cy="364.6" r="11.2" fill="#6E5C5F" stroke="#FFF6F4" stroke-width="1.7"/>
<circle cx="830.3" cy="444.2" r="11.2" fill="#6E5C5F" stroke="#FFF6F4" stroke-width="1.7"/>
<text x="80.66" y="75.96" font-size="42.38" fill="#333" stroke="#fff" stroke-width="1" textLength="299.37" lengthAdjust="spacingAndGlyphs">Nuestro impacto</text>
<text x="390.63" y="74.90" font-size="39.41" font-weight="bold" fill="#BE6D18" textLength="232.31" lengthAdjust="spacingAndGlyphs">en territorio</text>
<text x="118.40" y="160.00" font-size="32.55" fill="#fff" stroke="#828282" stroke-width="0.9" textLength="290.23" lengthAdjust="spacingAndGlyphs">NUESTRO ALCANCE</text>
<text x="477.60" y="165.99" font-size="55.84" font-weight="bold" fill="#FFF7FB" stroke="#FFF7FB" stroke-width="1.6" stroke-linejoin="round" textLength="210.06" lengthAdjust="spacingAndGlyphs">368.124</text>
<text x="709.66" y="139.65" font-size="21.26" font-weight="bold" fill="#111" stroke="#111" stroke-width="0.3" textLength="339.85" lengthAdjust="spacingAndGlyphs">NIÑAS, NIÑOS, ADOLESCENTES,</text>
<text x="710.75" y="163.65" font-size="21.26" font-weight="bold" fill="#111" stroke="#111" stroke-width="0.3" textLength="222.98" lengthAdjust="spacingAndGlyphs">JÓVENES Y ADULTOS</text>
<text x="709.89" y="186.65" font-size="20.10" fill="#1c1c1c" stroke="#1c1c1c" stroke-width="0.25" textLength="454.33" lengthAdjust="spacingAndGlyphs">participantes directos de las acciones de World Vision</text>
<text x="709.50" y="206.35" font-size="20.10" fill="#1c1c1c" stroke="#1c1c1c" stroke-width="0.25" textLength="440.30" lengthAdjust="spacingAndGlyphs">Ecuador en los diferentes ejes del bienestar integral.</text>
<text x="76.63" y="277.19" font-size="89.11" font-weight="bold" fill="#E2620F" stroke="#E2620F" stroke-width="1" textLength="102.75" lengthAdjust="spacingAndGlyphs">13</text>
<text x="194.64" y="276.98" font-size="41.14" font-weight="bold" fill="#BD7019" stroke="#BD7019" stroke-width="1.2" stroke-linejoin="round" textLength="191.52" lengthAdjust="spacingAndGlyphs">Provincias</text>
<text x="381.2" y="321.1" class="num" font-size="20.4">1</text>
<text x="344.4" y="321.3" class="lbl" textLength="54.2" lengthAdjust="spacingAndGlyphs">AZUAY</text>
<text x="381.2" y="360.1" class="num" font-size="20.4">2</text>
<text x="351.6" y="360.3" class="lbl" textLength="68.1" lengthAdjust="spacingAndGlyphs">BOLIVAR</text>
<text x="381.2" y="398.8" class="num" font-size="20.4">3</text>
<text x="353.8" y="399.0" class="lbl" textLength="110.8" lengthAdjust="spacingAndGlyphs">CHIMBORAZO</text>
<text x="381.2" y="438.1" class="num" font-size="20.4">4</text>
<text x="350.9" y="438.3" class="lbl" textLength="80.6" lengthAdjust="spacingAndGlyphs">COTOPAXI</text>
<text x="381.2" y="476.5" class="num" font-size="20.4">5</text>
<text x="356.9" y="476.7" class="lbl" textLength="99.5" lengthAdjust="spacingAndGlyphs">ESMERALDAS</text>
<text x="381.2" y="515.5" class="num" font-size="20.4">6</text>
<text x="354.0" y="515.7" class="lbl" textLength="62.7" lengthAdjust="spacingAndGlyphs">GUAYAS</text>
<text x="381.2" y="555.0" class="num" font-size="20.4">7</text>
<text x="354.6" y="555.2" class="lbl" textLength="71.0" lengthAdjust="spacingAndGlyphs">LOS RÍOS</text>
<text x="381.2" y="593.4" class="num" font-size="20.4">8</text>
<text x="349.7" y="593.6" class="lbl" textLength="64.7" lengthAdjust="spacingAndGlyphs">MANABÍ</text>
<text x="381.2" y="632.6" class="num" font-size="20.4">9</text>
<text x="359.3" y="632.8" class="lbl" textLength="161.7" lengthAdjust="spacingAndGlyphs">MORONA SANTIAGO</text>
<text x="381.2" y="672.0" class="num" font-size="20.4" textLength="22" lengthAdjust="spacingAndGlyphs">10</text>
<text x="358.6" y="671.7" class="lbl" textLength="46.8" lengthAdjust="spacingAndGlyphs">NAPO</text>
<text x="381.2" y="711.1" class="num" font-size="21" textLength="21.5" lengthAdjust="spacingAndGlyphs">11</text>
<text x="357.9" y="710.8" class="lbl" textLength="71.4" lengthAdjust="spacingAndGlyphs">PASTAZA</text>
<text x="381.2" y="753.2" class="num" font-size="22.5" textLength="23.5" lengthAdjust="spacingAndGlyphs">12</text>
<text x="350.2" y="752.1" class="lbl" textLength="98.3" lengthAdjust="spacingAndGlyphs">PICHINCHA</text>
<text x="381.2" y="795.4" class="num" font-size="22.5" textLength="24.5" lengthAdjust="spacingAndGlyphs">13</text>
<text x="356.6" y="794.3" class="lbl" textLength="126.2" lengthAdjust="spacingAndGlyphs">TUNGURAHUA</text>
<text x="472.81" y="692.20" font-size="19.54" font-weight="bold" fill="#3a3a3a" textLength="170.95" lengthAdjust="spacingAndGlyphs">ASÍ FUE NUESTRO</text>
<text class="yr" transform="translate(0,771.1) scale(1.25,1)" y="0" font-size="91" fill="#BD7019" stroke="#BD7019" stroke-width="0.5"><tspan x="382.40" textLength="55.48" lengthAdjust="spacingAndGlyphs">2</tspan><tspan x="421.10" textLength="64.24" lengthAdjust="spacingAndGlyphs">0</tspan><tspan x="470.33" textLength="55.68" lengthAdjust="spacingAndGlyphs">2</tspan><tspan x="513.21" textLength="57.59" lengthAdjust="spacingAndGlyphs">5</tspan></text>
<text x="893.92" y="633.93" font-size="21.60" font-weight="bold" fill="#6b6465" stroke="#6b6465" stroke-width="0.6" stroke-linejoin="round" textLength="146.94" lengthAdjust="spacingAndGlyphs">PARROQUIAS</text>
<text x="918.28" y="689.73" font-size="21.60" font-weight="bold" fill="#6b6465" stroke="#6b6465" stroke-width="0.6" stroke-linejoin="round" textLength="122.46" lengthAdjust="spacingAndGlyphs">CANTONES</text>
<text x="870.42" y="741.13" font-size="21.60" font-weight="bold" fill="#6b6465" stroke="#6b6465" stroke-width="0.6" stroke-linejoin="round" textLength="170.26" lengthAdjust="spacingAndGlyphs">COMUNIDADES</text>
<text x="1062.79" y="643.30" font-size="49.20" font-weight="bold" fill="#C26A17" textLength="85.22" lengthAdjust="spacingAndGlyphs">123</text>
<text x="1065.89" y="697.10" font-size="49.20" font-weight="bold" fill="#C26A17" textLength="55.95" lengthAdjust="spacingAndGlyphs">29</text>
<text x="1061.78" y="753.90" font-size="49.20" font-weight="bold" fill="#C26A17" textLength="87.07" lengthAdjust="spacingAndGlyphs">796</text>
<text x="776.7" y="576.3" class="mk" font-size="14.4">1</text>
<text x="788.0" y="469.6" class="mk" font-size="14.4">2</text>
<text x="811.7" y="498.1" class="mk" font-size="14.4">3</text>
<text x="800.0" y="418.1" class="mk" font-size="14.4">4</text>
<text x="770.8" y="310.6" class="mk" font-size="14.4">5</text>
<text x="718.3" y="493.8" class="mk" font-size="14.4">6</text>
<text x="752.0" y="461.1" class="mk" font-size="14.4">7</text>
<text x="712.8" y="417.9" class="mk" font-size="14.4">8</text>
<text x="857.5" y="548.9" class="mk" font-size="14.4">9</text>
<text x="869.3" y="405.9" class="mk" font-size="14.4" textLength="13.6" lengthAdjust="spacingAndGlyphs">10</text>
<text x="943.3" y="486.5" class="mk" font-size="14.4" textLength="13.6" lengthAdjust="spacingAndGlyphs">11</text>
<text x="833.5" y="369.7" class="mk" font-size="14.4" textLength="13.6" lengthAdjust="spacingAndGlyphs">12</text>
<text x="830.3" y="449.3" class="mk" font-size="14.4" textLength="13.6" lengthAdjust="spacingAndGlyphs">13</text>
</svg>
</body></html>
